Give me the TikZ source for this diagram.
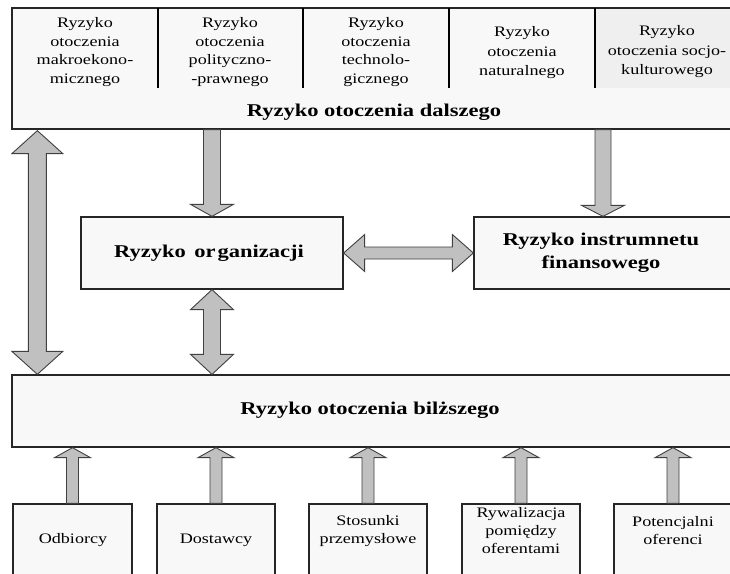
\documentclass[tikz,border=0pt]{standalone}
\usepackage{fontspec}
\setmainfont{Liberation Serif}[FakeStretch=1.25]
\usetikzlibrary{calc}
\definecolor{boxfill}{HTML}{F8F8F8}
\definecolor{cellfill}{HTML}{EFEFEF}
\definecolor{arrfill}{HTML}{C0C0C0}
\definecolor{arrline}{HTML}{404040}
\tikzset{
  box/.style={draw=black!85, line width=1.3pt, fill=boxfill, rectangle, inner sep=0pt},
  barrow/.style={draw=arrline, line width=0.9pt, fill=arrfill, line join=miter},
  celltxt/.style={inner sep=0pt, align=center, font=\fontsize{14.5}{18.5}\selectfont},
  cellbtxt/.style={inner sep=0pt, align=center, font=\fontsize{14.5}{19.5}\selectfont},
  lowtxt/.style={inner sep=0pt, align=center, font=\fontsize{14.5}{18}\selectfont},
  boldtxt/.style={inner sep=0pt, align=center, font=\fontsize{18}{23}\selectfont\bfseries},
  divider/.style={draw=black, line width=2pt}
}
% #1 start, #2 tip, #3 shaft half width, #4 head half width, #5 head length
\newcommand\blkdown[5]{\draw[barrow] let \p1=(#1), \p2=(#2) in
  (\x1-#3,\y1) -- (\x1+#3,\y1) -- (\x1+#3,\y2+#5) -- (\x1+#4,\y2+#5) -- (\x1,\y2)
  -- (\x1-#4,\y2+#5) -- (\x1-#3,\y2+#5) -- cycle;}
\newcommand\blkup[5]{\draw[barrow] let \p1=(#1), \p2=(#2) in
  (\x1-#3,\y1) -- (\x1-#3,\y2-#5) -- (\x1-#4,\y2-#5) -- (\x1,\y2)
  -- (\x1+#4,\y2-#5) -- (\x1+#3,\y2-#5) -- (\x1+#3,\y1) -- cycle;}
% #1 top tip, #2 bottom tip
\newcommand\blkvdouble[5]{\draw[barrow] let \p1=(#1), \p2=(#2) in
  (\x1,\y1) -- (\x1+#4,\y1-#5) -- (\x1+#3,\y1-#5) -- (\x1+#3,\y2+#5) -- (\x1+#4,\y2+#5)
  -- (\x1,\y2) -- (\x1-#4,\y2+#5) -- (\x1-#3,\y2+#5) -- (\x1-#3,\y1-#5) -- (\x1-#4,\y1-#5) -- cycle;}
% #1 left tip, #2 right tip
\newcommand\blkhdouble[5]{\draw[barrow] let \p1=(#1), \p2=(#2) in
  (\x1,\y1) -- (\x1+#5,\y1+#4) -- (\x1+#5,\y1+#3) -- (\x2-#5,\y1+#3) -- (\x2-#5,\y1+#4)
  -- (\x2,\y1) -- (\x2-#5,\y1-#4) -- (\x2-#5,\y1-#3) -- (\x1+#5,\y1-#3) -- (\x1+#5,\y1-#4) -- cycle;}
\begin{document}
\begin{tikzpicture}[x=1pt, y=-1pt]
\useasboundingbox (0,0) rectangle (730,573);
\clip (0,0) rectangle (730,573);
\fill[white] (0,0) rectangle (730,573);

% outer environment box
\node[box, minimum width=720pt, minimum height=121pt] (dal) at (372,68.5) {};
\fill[cellfill] (596,9) rectangle (731,88);
\draw[divider] (158,8) -- (158,88);
\draw[divider] (303,8) -- (303,88);
\draw[divider] (449,8) -- (449,88);
\draw[divider] (595,8) -- (595,88);
\node[celltxt] (c1) at (85,52) {Ryzyko\\otoczenia\\makroekono-\\micznego};
\node[celltxt] (c2) at (230,52) {Ryzyko\\otoczenia\\polityczno-\\-prawnego};
\node[celltxt] (c3) at (376,52) {Ryzyko\\otoczenia\\technolo-\\gicznego};
\node[cellbtxt] (c4) at (522,53) {Ryzyko\\otoczenia\\naturalnego};
\node[cellbtxt] (c5) at (667,52) {Ryzyko\\otoczenia socjo-\\kulturowego};
\node[boldtxt] (daltxt) at (374,112) {Ryzyko otoczenia dalszego};

% middle boxes
\node[box, minimum width=262pt, minimum height=72pt] (org) at (212,253) {};
\node[boldtxt] (orgtxt) at (209,253) {Ryzyko\kern3pt\ or\kern2pt ganizacji};
\node[box, minimum width=258pt, minimum height=72pt] (inst) at (603,253) {};
\node[boldtxt] (insttxt) at (601,253) {Ryzyko instrumnetu\\finansowego};

% near environment box
\node[box, minimum width=720pt, minimum height=72pt] (bli) at (372,411) {};
\node[boldtxt] (blitxt) at (370,410) {Ryzyko otoczenia bilższego};

% bottom boxes
\node[box, minimum width=119pt, minimum height=80pt] (b1) at (72.5,544) {};
\node[box, minimum width=118pt, minimum height=80pt] (b2) at (216,544) {};
\node[box, minimum width=118pt, minimum height=80pt] (b3) at (368,544) {};
\node[box, minimum width=118pt, minimum height=80pt] (b4) at (521,544) {};
\node[box, minimum width=118pt, minimum height=80pt] (b5) at (673,544) {};
\node[lowtxt] (b1t) at (73,540) {Odbiorcy};
\node[lowtxt] (b2t) at (216,540) {Dostawcy};
\node[lowtxt] (b3t) at (368,531) {Stosunki\\przemysłowe};
\node[lowtxt] (b4t) at (521,531) {Rywalizacja\\pomiędzy\\oferentami};
\node[lowtxt] (b5t) at (673,531) {Potencjalni\\oferenci};

% connectors
\coordinate (lt) at ($(dal.south west)+(26,1)$);
\coordinate (lb) at (lt |- bli.north);
\blkvdouble{lt}{lb}{9pt}{25.5pt}{23pt}
\blkdown{dal.south -| org.north}{org.north}{8.5pt}{21.5pt}{12pt}
\blkdown{dal.south -| inst.north}{inst.north}{8pt}{21.5pt}{11pt}
\blkhdouble{org.east}{inst.west}{6pt}{18.5pt}{21pt}
\blkvdouble{org.south}{org.south |- bli.north}{8.5pt}{21.5pt}{20pt}
\blkup{b1.north}{b1.north |- bli.south}{6pt}{18pt}{10pt}
\blkup{b2.north}{b2.north |- bli.south}{6pt}{18pt}{10pt}
\blkup{b3.north}{b3.north |- bli.south}{6pt}{18pt}{10pt}
\blkup{b4.north}{b4.north |- bli.south}{6pt}{18pt}{10pt}
\blkup{b5.north}{b5.north |- bli.south}{6pt}{18pt}{10pt}
\end{tikzpicture}
\end{document}
